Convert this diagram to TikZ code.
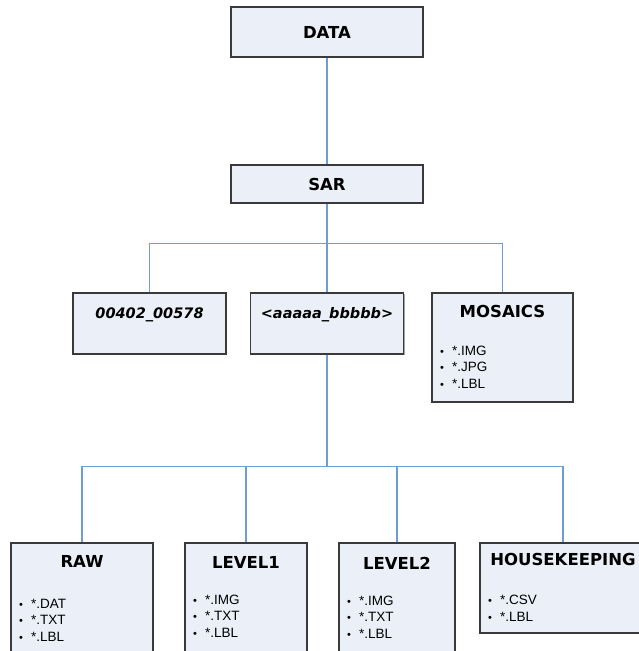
\documentclass[tikz,border=0pt]{standalone}
\usepackage{fontspec}
\setmainfont{Liberation Sans}
\newfontfamily\titlefont{DejaVu Sans}
\usetikzlibrary{shadows}
\definecolor{color_dir_fill}{HTML}{EBEFF8}
\definecolor{color_dir_border}{HTML}{3A3A3A}
\definecolor{color_dir_link}{HTML}{6E9DD6}

\tikzset{
    dirbox/.style={rectangle, draw=color_dir_border, line width=1.1pt, fill=color_dir_fill,
        inner sep=0pt, drop shadow={shadow xshift=1pt, shadow yshift=-1pt, fill=black!35, opacity=1}},
    dirtitle/.style={font=\titlefont\bfseries\fontsize{16.5}{19}\selectfont, inner sep=0pt},
    dirname/.style={font=\titlefont\bfseries\itshape\fontsize{14.5}{17}\selectfont, inner sep=0pt},
    filelist/.style={font=\fontsize{13.5}{16.5}\selectfont, align=left, anchor=west, inner sep=0pt},
    dirlink/.style={draw=color_dir_link, line width=1.2pt}
}
\newcommand{\fitem}[1]{{\fontsize{11}{16.5}\selectfont\textbullet}\hspace{8pt}#1}

\begin{document}
\begin{tikzpicture}[x=1pt,y=-1pt]
    \useasboundingbox (0,0) rectangle (638,651);
    % top levels
    \node[dirbox, minimum width=192pt, minimum height=50pt] (data) at (327,32) {};
    \node[dirtitle] at (data.center) {DATA};
    \node[dirbox, minimum width=192pt, minimum height=38pt] (sar) at (327,184) {};
    \node[dirtitle] at (sar.center) {SAR};
    % second level
    \node[dirbox, minimum width=153pt, minimum height=61pt] (orbits) at (149.5,323.5) {};
    \node[dirname] at (149.5,315) {00402\_00578};
    \node[dirbox, minimum width=153pt, minimum height=61pt] (range) at (327,323.5) {};
    \node[dirname] at (327,315) {<aaaaa\_bbbbb>};
    \node[dirbox, minimum width=141pt, minimum height=109pt] (mosaics) at (502.5,347.5) {};
    \node[dirtitle] at (502.5,311) {MOSAICS};
    \node[filelist] at (440,367) {\fitem{*.IMG}\\ \fitem{*.JPG}\\ \fitem{*.LBL}};
    % third level
    \node[dirbox, minimum width=142pt, minimum height=120pt] (raw) at (82,603) {};
    \node[dirtitle] at (82,561) {RAW};
    \node[filelist] at (19,620) {\fitem{*.DAT}\\ \fitem{*.TXT}\\ \fitem{*.LBL}};
    \node[dirbox, minimum width=122pt, minimum height=120pt] (levelone) at (246,603) {};
    \node[dirtitle] at (246,562) {LEVEL1};
    \node[filelist] at (193,616) {\fitem{*.IMG}\\ \fitem{*.TXT}\\ \fitem{*.LBL}};
    \node[dirbox, minimum width=116pt, minimum height=120pt] (leveltwo) at (397,603) {};
    \node[dirtitle] at (397,563) {LEVEL2};
    \node[filelist] at (347,617) {\fitem{*.IMG}\\ \fitem{*.TXT}\\ \fitem{*.LBL}};
    \node[dirbox, minimum width=166pt, minimum height=90pt] (housekeeping) at (563,588) {};
    \node[dirtitle] at (563,559) {HOUSEKEEPING};
    \node[filelist] at (488,608.5) {\fitem{*.CSV}\\ \fitem{*.LBL}};
    % links
    \draw[dirlink] (data.south) -- (sar.north);
    \draw[dirlink] (sar.south) -- coordinate[pos=0.45] (busa) (range.north);
    \draw[dirlink] (orbits.north) |- (busa) -| (mosaics.north);
    \draw[dirlink] (range.south) -- ++(0,112) coordinate (busb);
    \draw[dirlink] (raw.north) |- (busb) -| (housekeeping.north);
    \draw[dirlink] (levelone.north) -- (levelone.north |- busb);
    \draw[dirlink] (leveltwo.north) -- (leveltwo.north |- busb);
\end{tikzpicture}
\end{document}
